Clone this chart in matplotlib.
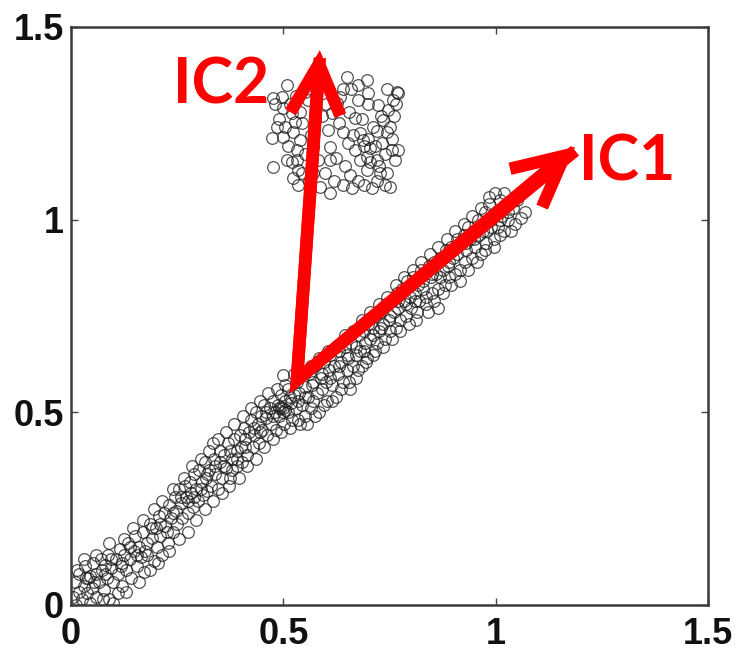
import matplotlib
matplotlib.use("Agg")
import matplotlib.pyplot as plt

# ---- data ----
band_pts = [
    (0.005,0.02),(0.01,0.06),(0.012,0.00),(0.018,0.035),(0.02,0.08),(0.025,0.015),(0.03,0.05),(0.033,0.10),(0.038,0.03),(0.04,0.07),
    (0.045,0.005),(0.05,0.045),(0.052,0.11),(0.058,0.08),(0.06,0.02),(0.065,0.06),(0.07,0.12),(0.072,0.09),(0.078,0.04),(0.08,0.105),
    (0.085,0.07),(0.088,0.13),(0.09,0.015),(0.095,0.095),(0.10,0.06),(0.10,0.005),(0.105,0.12),(0.11,0.08),(0.115,0.145),(0.118,0.10),
    (0.12,0.05),(0.125,0.13),(0.13,0.09),(0.135,0.16),(0.14,0.12),(0.142,0.07),(0.148,0.14),(0.15,0.18),(0.155,0.10),(0.16,0.15),
    (0.165,0.125),(0.17,0.19),(0.172,0.085),(0.178,0.16),(0.18,0.13),(0.185,0.21),(0.19,0.175),(0.195,0.115),(0.20,0.20),(0.202,0.15),
    (0.208,0.23),(0.21,0.18),(0.215,0.13),(0.22,0.24),(0.222,0.205),(0.228,0.16),(0.23,0.26),(0.235,0.225),(0.24,0.19),(0.245,0.28),
    (0.248,0.245),(0.25,0.21),
    (0.255,0.30),(0.26,0.265),(0.262,0.225),(0.268,0.31),(0.27,0.28),(0.275,0.24),(0.28,0.32),(0.283,0.29),(0.288,0.255),(0.29,0.34),
    (0.295,0.30),(0.30,0.27),(0.302,0.35),(0.308,0.32),(0.31,0.285),(0.315,0.37),(0.318,0.33),(0.32,0.295),(0.325,0.35),(0.33,0.31),
    (0.334,0.42),(0.336,0.38),(0.34,0.34),(0.345,0.30),(0.35,0.37),(0.352,0.40),(0.356,0.33),(0.36,0.39),(0.365,0.355),(0.37,0.42),
    (0.372,0.31),(0.378,0.38),(0.38,0.35),(0.385,0.43),(0.39,0.40),(0.392,0.36),(0.398,0.44),(0.40,0.41),(0.403,0.37),
    (0.408,0.46),(0.41,0.43),(0.415,0.39),(0.42,0.45),(0.425,0.48),(0.428,0.41),(0.43,0.44),(0.435,0.50),(0.44,0.47),(0.442,0.42),
    (0.448,0.49),(0.45,0.455),(0.455,0.52),(0.46,0.485),(0.462,0.44),(0.468,0.51),(0.47,0.47),(0.475,0.53),(0.48,0.50),(0.482,0.455),
    (0.488,0.52),(0.49,0.49),(0.495,0.545),(0.50,0.51),(0.50,0.597),(0.502,0.47),(0.505,0.53),(0.51,0.50),(0.512,0.56),(0.518,0.525),
    (0.52,0.48),(0.525,0.545),(0.53,0.51),(0.532,0.58),(0.538,0.55),(0.54,0.47),(0.545,0.52),(0.55,0.565),(0.552,0.49),(0.558,0.54),
    (0.56,0.60),(0.565,0.51),(0.568,0.57),(0.57,0.53),(0.575,0.62),(0.58,0.55),(0.585,0.50),(0.588,0.59),(0.59,0.56),(0.595,0.63),
    (0.60,0.58),(0.602,0.53),(0.608,0.61),(0.61,0.65),(0.615,0.57),(0.62,0.62),(0.625,0.54),(0.628,0.60),(0.63,0.66),(0.635,0.63),
    (0.64,0.58),(0.645,0.67),(0.65,0.61),(0.652,0.64),(0.658,0.56),(0.66,0.68),(0.665,0.62),(0.67,0.65),(0.672,0.59),(0.678,0.70),
    (0.68,0.66),(0.685,0.62),(0.69,0.71),(0.692,0.68),(0.698,0.64),(0.70,0.73),
    (0.705,0.69),(0.71,0.65),(0.712,0.72),(0.718,0.75),(0.72,0.68),(0.725,0.71),(0.73,0.76),(0.735,0.73),(0.74,0.69),(0.742,0.78),
    (0.748,0.74),(0.75,0.71),(0.755,0.79),(0.76,0.76),(0.765,0.72),(0.768,0.81),(0.77,0.77),(0.775,0.74),(0.78,0.82),(0.785,0.79),
    (0.79,0.75),(0.792,0.84),(0.798,0.80),(0.80,0.77),(0.805,0.85),(0.81,0.81),(0.812,0.74),(0.818,0.83),(0.82,0.79),(0.825,0.87),
    (0.83,0.84),(0.835,0.80),(0.84,0.76),(0.842,0.88),(0.848,0.85),(0.85,0.81),(0.864,0.771),
    (0.855,0.89),(0.86,0.86),(0.865,0.82),(0.87,0.90),(0.875,0.87),(0.88,0.83),(0.882,0.92),(0.888,0.88),(0.89,0.85),(0.895,0.93),
    (0.90,0.90),(0.905,0.86),(0.908,0.95),(0.91,0.91),(0.915,0.87),(0.92,0.94),(0.925,0.96),(0.928,0.89),(0.93,0.92),(0.935,0.98),
    (0.94,0.95),(0.945,0.90),(0.95,0.97),(0.952,0.93),(0.958,1.00),(0.96,0.96),(0.965,0.91),(0.97,0.99),(0.975,1.02),(0.978,0.94),
    (0.98,0.97),(0.985,1.04),(0.99,1.00),(0.995,0.95),(0.998,1.07),(1.00,1.02),(1.005,0.98),(1.01,1.05),(1.015,1.01),(1.02,0.97),
    (1.025,1.04),(1.03,1.00),(1.04,1.03),(1.045,0.99),(1.06,1.004),(1.07,1.02),
    # outer edges of the band
    (0.015,0.09),(0.03,0.12),(0.045,0.075),(0.06,0.13),(0.075,0.015),(0.09,0.16),(0.11,0.03),(0.125,0.17),(0.13,0.035),(0.145,0.20),
    (0.16,0.06),(0.17,0.22),(0.185,0.09),(0.195,0.25),(0.205,0.11),(0.215,0.27),(0.23,0.14),(0.24,0.30),(0.255,0.17),(0.265,0.33),
    (0.275,0.19),(0.285,0.36),(0.295,0.22),(0.305,0.38),(0.315,0.25),(0.325,0.40),(0.335,0.27),(0.345,0.43),(0.355,0.29),(0.365,0.45),
    (0.375,0.33),(0.385,0.47),(0.395,0.33),(0.405,0.49),(0.415,0.36),(0.425,0.51),(0.435,0.38),(0.445,0.53),(0.455,0.41),(0.465,0.55),
    (0.475,0.43),(0.485,0.56),(0.495,0.45),(0.505,0.57),(0.515,0.46),(0.525,0.60),(0.535,0.48),(0.545,0.60),(0.555,0.47),(0.565,0.62),
    (0.575,0.49),(0.585,0.64),(0.595,0.52),(0.605,0.66),(0.615,0.53),(0.625,0.67),(0.635,0.56),(0.645,0.70),(0.655,0.58),(0.665,0.71),
    (0.675,0.61),(0.685,0.74),(0.695,0.63),(0.705,0.76),(0.715,0.66),(0.725,0.78),(0.735,0.67),(0.745,0.80),(0.755,0.69),(0.765,0.83),
    (0.775,0.71),(0.785,0.85),(0.795,0.73),(0.805,0.87),(0.815,0.76),(0.825,0.89),(0.835,0.78),(0.845,0.91),(0.855,0.79),(0.865,0.93),
    (0.875,0.81),(0.885,0.95),(0.895,0.83),(0.905,0.97),(0.915,0.84),(0.925,0.99),(0.935,0.87),(0.945,1.01),(0.955,0.89),(0.965,1.03),
    (0.975,0.92),(0.985,1.06),(0.995,0.93),(1.01,0.96),(1.02,1.07),(1.035,0.97),(1.05,1.05),
    # dense core
    (0.035,0.07),(0.055,0.06),(0.08,0.08),(0.095,0.12),(0.12,0.11),(0.14,0.15),(0.155,0.13),(0.175,0.14),(0.19,0.20),(0.21,0.21),
    (0.225,0.19),(0.24,0.24),(0.26,0.28),(0.275,0.27),(0.29,0.28),(0.305,0.30),(0.32,0.34),(0.34,0.36),(0.36,0.36),(0.375,0.40),
    (0.39,0.38),(0.41,0.41),(0.43,0.46),(0.445,0.45),(0.46,0.50),(0.475,0.49),(0.49,0.51),(0.50,0.50),(0.505,0.505),(0.495,0.515),
    (0.515,0.54),(0.535,0.53),(0.55,0.54),(0.57,0.58),(0.59,0.60),(0.61,0.59),(0.63,0.62),(0.65,0.65),(0.67,0.67),(0.69,0.66),
    (0.71,0.70),(0.73,0.72),(0.75,0.75),(0.77,0.79),(0.79,0.78),(0.81,0.79),(0.83,0.82),(0.85,0.86),(0.87,0.85),(0.89,0.89),
    (0.91,0.93),(0.93,0.94),(0.95,0.95),(0.97,0.97),(0.99,0.98),(1.01,1.00),(1.03,1.02),
]

cluster_pts = [
    (0.476,1.316),(0.497,1.318),(0.509,1.350),(0.499,1.290),(0.520,1.277),(0.539,1.280),(0.527,1.254),(0.473,1.212),(0.499,1.215),(0.523,1.228),
    (0.539,1.207),(0.476,1.137),(0.509,1.155),(0.532,1.181),(0.532,1.155),(0.534,1.129),(0.523,1.108),(0.534,1.090),(0.586,1.085),(0.598,1.121),
    (0.610,1.155),(0.610,1.189),(0.605,1.233),(0.615,1.277),(0.633,1.318),(0.650,1.370),(0.626,1.303),(0.640,1.228),(0.652,1.199),(0.657,1.116),
    (0.662,1.082),(0.669,1.264),(0.676,1.311),(0.697,1.363),(0.699,1.329),(0.680,1.225),(0.688,1.207),(0.704,1.186),(0.697,1.163),(0.721,1.155),
    (0.732,1.199),(0.744,1.228),(0.735,1.259),(0.746,1.285),(0.758,1.311),(0.768,1.331),(0.756,1.181),(0.763,1.155),(0.728,1.121),(0.751,1.085),
    (0.709,1.082),(0.697,1.129),(0.680,1.155),(0.669,1.181),(0.711,1.241),(0.723,1.298),(0.575,1.259),(0.570,1.189),(0.582,1.155),(0.570,1.121),
    (0.558,1.311),(0.551,1.331),
    (0.49,1.26),(0.505,1.24),(0.515,1.30),(0.545,1.25),(0.55,1.17),(0.56,1.10),(0.565,1.22),(0.59,1.27),(0.595,1.35),(0.60,1.30),
    (0.62,1.10),(0.625,1.16),(0.63,1.25),(0.645,1.14),(0.655,1.28),(0.66,1.34),(0.665,1.22),(0.675,1.10),(0.685,1.26),(0.69,1.19),
    (0.70,1.21),(0.705,1.15),(0.715,1.19),(0.72,1.23),(0.725,1.14),(0.73,1.27),(0.74,1.17),(0.745,1.12),(0.75,1.24),(0.755,1.21),
    (0.76,1.27),(0.765,1.30),(0.77,1.18),(0.74,1.09),(0.72,1.10),(0.69,1.09),(0.64,1.09),(0.61,1.07),(0.545,1.12),(0.52,1.15),
    (0.51,1.19),(0.485,1.24),(0.48,1.30),(0.53,1.32),(0.56,1.36),(0.64,1.34),(0.675,1.35),(0.70,1.30),(0.745,1.34),(0.77,1.33),
]

arrow_origin = (0.532, 0.584)
ic1_tip = (1.187, 1.189)
ic2_tip = (0.586, 1.440)
labels = ["IC1", "IC2"]
label_pos = [(1.31, 1.148), (0.353, 1.347)]

ticks = [0, 0.5, 1, 1.5]
tick_labels = ["0", "0.5", "1", "1.5"]

# ---- figure ----
fig = plt.figure(figsize=(7.38, 6.52), dpi=100)
ax = fig.add_axes([71/738, 1-605/652, (708-71)/738, (605-27)/652])

bx = [p[0] for p in band_pts]
by = [p[1] for p in band_pts]
cx = [p[0] for p in cluster_pts]
cy = [p[1] for p in cluster_pts]

for xs, ys in ((bx, by), (cx, cy)):
    ax.plot(xs, ys, linestyle="none", marker="o", markersize=8.4,
            markerfacecolor="none", markeredgecolor="#1a1a1a",
            markeredgewidth=0.9, alpha=0.75, zorder=2)

ax.set_xlim(0, 1.5)
ax.set_ylim(0, 1.5)
ax.set_xticks(ticks)
ax.set_yticks(ticks)
ax.set_xticklabels(tick_labels)
ax.set_yticklabels(tick_labels)
for lab in ax.get_xticklabels() + ax.get_yticklabels():
    lab.set_fontfamily("Liberation Sans")
    lab.set_fontweight("bold")
    lab.set_fontsize(26)
    lab.set_color("#111111")
ax.tick_params(axis="both", direction="in", length=5, width=1.0, color="#444444",
               top=True, right=True)
ax.tick_params(axis="x", pad=9)
ax.tick_params(axis="y", pad=5)
for s in ax.spines.values():
    s.set_linewidth(1.8)
    s.set_color("#3a3a3a")

# red arrows (shafts joined at origin)
ax.plot([ic2_tip[0], arrow_origin[0], ic1_tip[0]],
        [ic2_tip[1] - 0.02, arrow_origin[1], ic1_tip[1] - 0.01],
        color="red", lw=9, solid_joinstyle="miter", solid_capstyle="butt", zorder=4)
for tip in (ic1_tip, ic2_tip):
    ax.annotate("", xy=tip, xytext=arrow_origin,
                arrowprops=dict(arrowstyle="->,head_length=1.8,head_width=0.9",
                                color="red", lw=9, mutation_scale=20,
                                shrinkA=0, shrinkB=0, joinstyle="miter",
                                capstyle="butt"),
                zorder=5)

for txt, (tx, ty) in zip(labels, label_pos):
    ax.text(tx, ty, txt, color="red", fontsize=45, fontweight="bold",
            family="Lato", ha="center", va="center", zorder=6)

fig.savefig("out.png", dpi=100)
